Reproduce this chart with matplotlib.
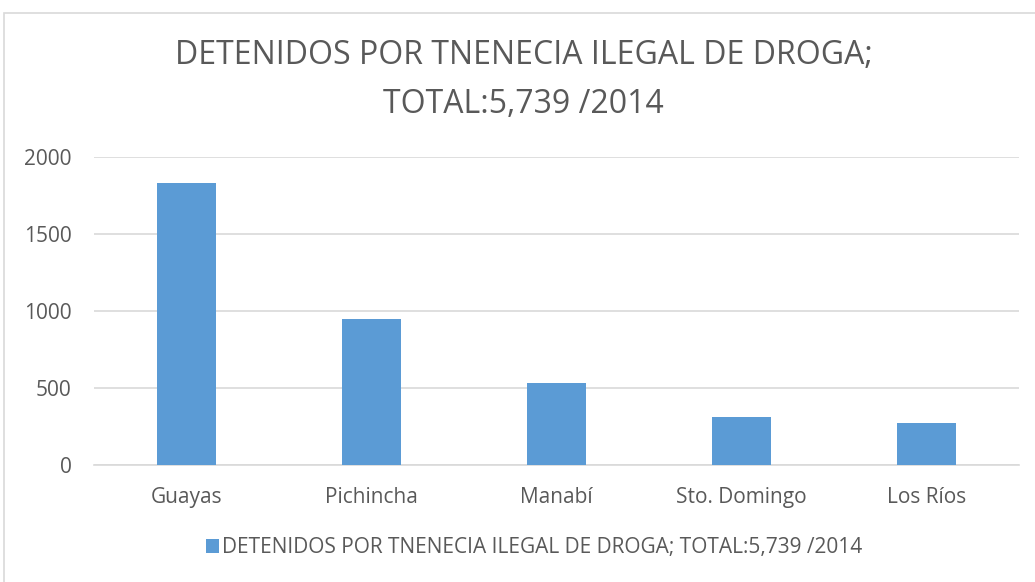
import matplotlib
matplotlib.use("Agg")
import matplotlib.pyplot as plt
from matplotlib.patches import Rectangle

categories = ["Guayas", "Pichincha", "Manabí", "Sto. Domingo", "Los Ríos"]
values = [1829, 944, 530, 308, 270]
series_name = "DETENIDOS POR TNENECIA ILEGAL DE DROGA; TOTAL:5,739 /2014"
title = "DETENIDOS POR TNENECIA ILEGAL DE DROGA;\nTOTAL:5,739 /2014"
yticks = [0, 500, 1000, 1500, 2000]

plt.rcParams['font.family'] = ['Open Sans', 'DejaVu Sans']
fig = plt.figure(figsize=(10.35, 5.82), dpi=100)
ax = fig.add_axes([94/1035, 1-464.7/582, (1019-94)/1035, (464.7-157)/582])

bar_color = "#5B9BD5"
x = list(range(len(categories)))
ax.bar(x, values, width=0.315, color=bar_color, zorder=3, label=series_name)
ax.set_xlim(-0.5, len(categories)-0.5)
ax.set_ylim(0, 2000)
ax.set_yticks(yticks)
ax.set_yticklabels([str(t) for t in yticks])
ax.set_xticks(x)
ax.set_xticklabels(categories)
ax.yaxis.grid(True, color="#d9d9d9", linewidth=1.2, zorder=0)
for s in ["top", "right", "left"]:
    ax.spines[s].set_visible(False)
ax.spines["bottom"].set_color("#d9d9d9")
ax.spines["bottom"].set_linewidth(1.2)
ax.tick_params(axis="both", length=0, labelsize=15, colors="#595959")
ax.tick_params(axis="y", pad=16)
ax.tick_params(axis="x", pad=16)

fig.text(0.506, 1-80/582, title, ha="center", va="center", fontsize=23,
         color="#595959", linespacing=1.62)

leg = fig.legend(loc="center", bbox_to_anchor=(534/1035, 1-548/582), frameon=False,
                 fontsize=15, handlelength=0.62, handleheight=0.62, handletextpad=0.15,
                 labelcolor="#595959")

fig.patches.append(Rectangle((3.5/1035, -0.01), 1.1, 1-12.5/582+0.01,
                             transform=fig.transFigure, fill=False,
                             edgecolor="#d9d9d9", linewidth=1.2))

fig.savefig("out.png", dpi=100, facecolor="white")
